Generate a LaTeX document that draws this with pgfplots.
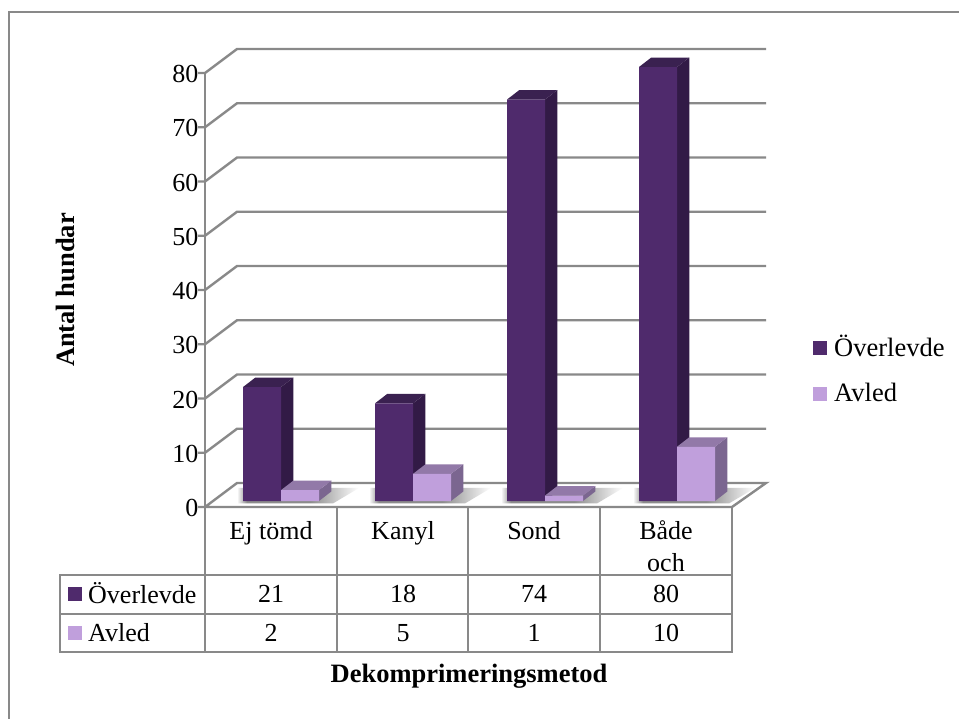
\documentclass[border=0pt]{standalone}
\usepackage{fontspec}
\setmainfont{Liberation Serif}
\usepackage{pgfplots}
\usepackage{pgfplotstable}
\pgfplotsset{compat=1.18}

\definecolor{gridgray}{HTML}{898989}
\definecolor{overF}{HTML}{4F2A6C}
\definecolor{overS}{HTML}{321A46}
\definecolor{overT}{HTML}{3A2150}
\definecolor{avlF}{HTML}{C09FDC}
\definecolor{avlS}{HTML}{7B6690}
\definecolor{avlT}{HTML}{9279A8}

\pgfdeclarehorizontalshading{barshadow}{100bp}{
  color(0bp)=(white); color(25bp)=(white); color(29bp)=(black!45);
  color(55bp)=(black!45); color(75bp)=(white); color(100bp)=(white)}

% x is the centre of each category on the bar plane, y the number of dogs
\pgfplotstableread{
x   over avled
66  21   2
198 18   5
330 74   1
462 80   10
}\dogs

\newcommand{\barfaces}[4]{% left edge, value, side colour, top colour
  \pgfmathsetmacro\xl{#1}
  \pgfmathsetmacro\xr{#1+38}
  \pgfmathsetmacro\xp{#1+38+12.3}
  \pgfmathsetmacro\xq{#1+12.3}
  \pgfmathsetmacro\vt{#2+1.75}
  \addplot[fill=#3,draw=none,forget plot] coordinates {(\xr,0)(\xp,1.75)(\xp,\vt)(\xr,#2)};
  \addplot[fill=#4,draw=none,forget plot] coordinates {(\xl,#2)(\xr,#2)(\xp,\vt)(\xq,\vt)};
}

\begin{document}
\begin{tikzpicture}[x=1pt,y=-1pt]
\useasboundingbox (0,0) rectangle (959,719);
\fill[white] (0,0) rectangle (959,719);
% outer frame of the chart area
\draw[gridgray,line width=2pt] (9,720) -- (9,12) -- (960,12);

\begin{axis}[
  at={(215pt,-501pt)}, anchor=south west,
  scale only axis, width=528pt, height=434pt,
  xmin=0, xmax=528, ymin=0, ymax=80,
  clip=false,
  axis line style={draw=none},
  xtick=\empty,
  ytick={0,10,...,80},
  major tick style={draw=none},
  /pgf/number format/assume math mode=true,
  yticklabel style={font=\fontsize{26}{29}\selectfont, anchor=east, xshift=-13pt, yshift=-7pt},
  legend style={at={(1.1326,0.387)}, anchor=north west, draw=none, fill=none,
    font=\fontsize{26.5}{29}\selectfont, row sep=21pt, inner sep=0pt,
    legend cell align=left},
  legend image code/.code={\path[fill=none,draw=none] (-1pt,-8pt) rectangle (18pt,8pt); \fill[#1] (-1pt,-8pt) rectangle (13pt,6pt);},
]
% back wall gridlines with their slanted side-wall part and front tick
\pgfplotsinvokeforeach{10,20,...,80}{
  \pgfmathsetmacro\va{#1-1.106}
  \pgfmathsetmacro\vb{#1+3.318}
  \addplot[gridgray,line width=2.4pt,forget plot] coordinates {(-17,\va)(-10,\va)(22,\vb)(551,\vb)};
}
% floor outline
\addplot[gridgray,line width=2.4pt,forget plot] coordinates {(-17,-1.106)(517,-1.106)(551,3.318)(22,3.318)(-10,-1.106)};
% vertical axis on the front edge
\addplot[gridgray,line width=2.4pt,forget plot] coordinates {(-10,-1.106)(-10,78.894)};

% soft shadows on the floor
\pgfplotsinvokeforeach{0,132,264,396}{
  \pgfmathsetmacro\sa{#1+22}
  \pgfmathsetmacro\sb{#1+28+76+14}
  \pgfmathsetmacro\sc{#1+28+76+40}
  \addplot[shade,shading=barshadow,draw=none,forget plot] coordinates {(\sa,-0.45)(\sb,-0.45)(\sc,2.4)(\sa,2.4)};
}

% depth faces of the first series, then its front faces
\pgfplotsinvokeforeach{0,1,2,3}{
  \pgfplotstablegetelem{#1}{over}\of\dogs
  \edef\thisval{\pgfplotsretval}
  \pgfmathsetmacro\thisleft{#1*132+28}
  \barfaces{\thisleft}{\thisval}{overS}{overT}
}
\addplot[ybar,bar width=38pt,bar shift=-19pt,fill=overF,draw=none] table[x=x,y=over] {\dogs};
\addlegendentry{Överlevde}

% depth faces of the second series, then its front faces
\pgfplotsinvokeforeach{0,1,2,3}{
  \pgfplotstablegetelem{#1}{avled}\of\dogs
  \edef\thisval{\pgfplotsretval}
  \pgfmathsetmacro\thisleft{#1*132+66}
  \barfaces{\thisleft}{\thisval}{avlS}{avlT}
}
\addplot[ybar,bar width=38pt,bar shift=19pt,fill=avlF,draw=none] table[x=x,y=avled] {\dogs};
\addlegendentry{Avled}
\end{axis}

% data table below the floor
\draw[gridgray,line width=2.4pt] (60,575) rectangle (732,652);
\draw[gridgray,line width=2.4pt] (60,614) -- (732,614);
\foreach \cx in {205,337,468,600,732}
  \draw[gridgray,line width=2.4pt] (\cx,507) -- (\cx,652);

\fill[overF] (68,587) rectangle (82,601);
\fill[avlF]  (68,626) rectangle (82,640);

\begin{scope}[every node/.style={font=\fontsize{26}{29}\selectfont, anchor=base, inner sep=0pt}]
  \node[anchor=base west] at (88,603) {Överlevde};
  \node[anchor=base west] at (88,641) {Avled};
  \node at (271,539) {Ej tömd};
  \node at (403,539) {Kanyl};
  \node at (534,539) {Sond};
  \node at (666,539) {Både};
  \node at (666,571) {och};
  \node at (271,602) {21};
  \node at (403,602) {18};
  \node at (534,602) {74};
  \node at (666,602) {80};
  \node at (271,641) {2};
  \node at (403,641) {5};
  \node at (534,641) {1};
  \node at (666,641) {10};
\end{scope}

% axis titles
\node[font=\fontsize{26.5}{30}\selectfont\bfseries, anchor=base, inner sep=0pt] at (469,682) {Dekomprimeringsmetod};
\node[font=\fontsize{26.5}{30}\selectfont\bfseries, rotate=90, anchor=base, inner sep=0pt] at (74,290) {Antal hundar};
\end{tikzpicture}
\end{document}
